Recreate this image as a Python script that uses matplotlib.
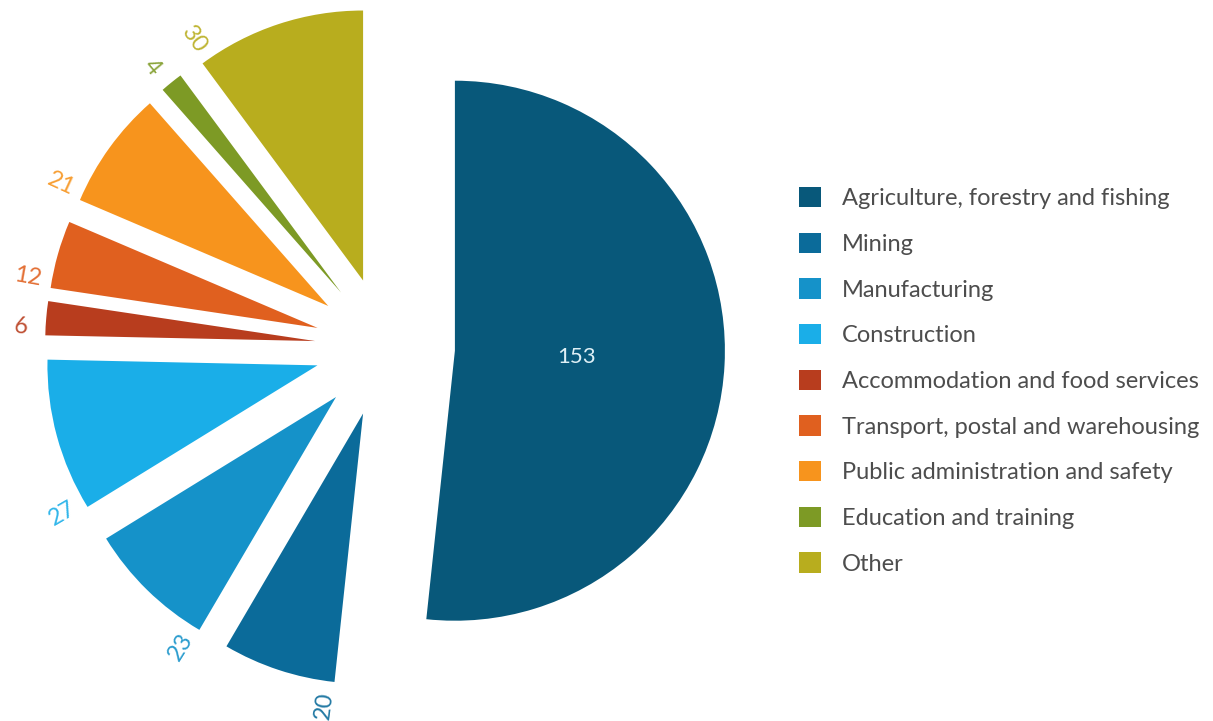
import matplotlib.pyplot as plt
import numpy as np

# industry breakdown
categories = ['Agriculture, forestry and fishing', 'Mining', 'Manufacturing',
              'Construction', 'Accommodation and food services',
              'Transport, postal and warehousing',
              'Public administration and safety', 'Education and training',
              'Other']
values = [153, 20, 23, 27, 6, 12, 21, 4, 30]
colors = ['#08587a', '#0b6b9a', '#1592c9', '#1aaee8', '#b83d1e',
          '#e0601f', '#f7941d', '#7d9a25', '#b8ad1e']

W, H = 1213, 721
fig = plt.figure(figsize=(W / 100, H / 100), dpi=100)
ax = fig.add_axes([0, 0, 1, 1])

radius = 270
gap = 70  # explode offset, data units == pixels here
wedges, _ = ax.pie(values, colors=colors, startangle=90, counterclock=False,
                   radius=radius, center=(385, H - 347),
                   explode=[gap] * len(values),
                   wedgeprops=dict(linewidth=0))
ax.set_xlim(0, W)
ax.set_ylim(0, H)
ax.set_aspect('equal')
ax.axis('off')

font = ['Lato', 'DejaVu Sans']

# big slice: value inside
w0 = wedges[0]
mid = np.deg2rad((w0.theta1 + w0.theta2) / 2)
cx, cy = w0.center
ax.text(cx + 0.45 * radius * np.cos(mid), cy + 0.45 * radius * np.sin(mid),
        str(values[0]), color='#dff0f6', fontsize=16, family=font,
        ha='center', va='center')

# the others: rotated value at the outer corner of each slice
for w, v, c in zip(wedges[1:], values[1:], colors[1:]):
    ang = w.theta2 - 1.5
    a = np.deg2rad(ang)
    cx, cy = w.center
    r = radius * 1.09
    ax.text(cx + r * np.cos(a), cy + r * np.sin(a), str(v), color=c,
            fontsize=17, family=font, alpha=0.9,
            rotation=ang - 180 if ang > 90 else ang + 180,
            rotation_mode='anchor', ha='center', va='center')

leg = ax.legend(wedges, categories, loc='upper left',
                bbox_to_anchor=(799 / W, 1 - 187 / H),
                frameon=False, handlelength=0.95,
                handleheight=0.95, handletextpad=0.85, labelspacing=0.99,
                borderpad=0, borderaxespad=0, prop=dict(family=font, size=17))
for t in leg.get_texts():
    t.set_color('#4d4d4d')

plt.savefig('out.png', dpi=100)
plt.close()
